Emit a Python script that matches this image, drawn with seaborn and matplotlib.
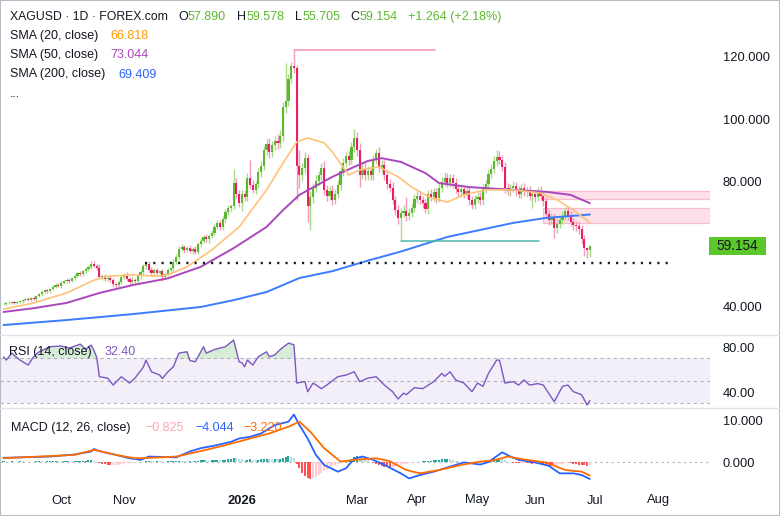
import numpy as np
import matplotlib
matplotlib.use("Agg")
import matplotlib.pyplot as plt
import seaborn as sns
from matplotlib.patches import Rectangle
from matplotlib.lines import Line2D

# ---------------- data ----------------
first_open = 40.6
closes = [
    40.8, 41.0, 40.9, 41.2, 41.0, 41.3, 41.6, 41.9, 42.3, 42.1,
    42.6, 42.2, 43.3, 43.8, 44.6, 45.0, 44.7, 45.4, 46.2, 46.8,
    46.5, 47.4, 48.0, 48.4, 48.1, 48.9, 49.8, 50.5, 50.2, 51.2,
    51.9, 52.4, 53.6, 53.0, 52.3, 49.4, 49.6, 48.7, 49.1, 48.4,
    47.0, 46.6, 47.6, 49.4, 49.9, 48.6, 47.7, 48.5, 48.0, 49.5,
    51.0, 52.8, 53.5, 51.7, 50.6, 51.5, 50.6, 51.1, 49.4, 50.2,
    51.5, 52.1, 54.2, 55.9, 58.4, 58.9, 58.0, 58.6, 57.6, 58.4,
    57.4, 59.9, 61.0, 62.1, 61.4, 62.6, 63.6, 65.4, 66.6, 65.4,
    68.1, 70.1, 71.4, 72.0, 79.6, 76.1, 73.2, 76.0, 75.0, 81.2,
    79.0, 77.4, 79.1, 83.0, 85.1, 90.2, 92.0, 89.4, 91.6, 93.1,
    92.4, 94.6, 104.0, 106.0, 113.0, 117.0, 116.4, 85.0, 82.0, 84.2,
    87.4, 72.0, 75.0, 78.0, 80.2, 82.0, 84.4, 77.2, 75.4, 77.0,
    74.2, 76.1, 79.0, 83.4, 86.0, 88.1, 87.0, 91.0, 94.0, 90.0,
    82.2, 84.0, 82.0, 83.5, 82.1, 87.0, 89.1, 84.6, 85.2, 82.0,
    79.2, 78.0, 74.1, 71.0, 68.2, 70.0, 70.6, 69.0, 70.0, 71.6,
    74.5, 75.4, 74.0, 73.0, 71.2, 76.0, 75.0, 76.5, 74.6, 78.0,
    80.0, 81.0, 79.5, 81.0, 79.4, 77.5, 76.5, 77.6, 76.0, 77.1,
    74.0, 72.6, 74.5, 75.1, 74.0, 77.6, 79.1, 82.5, 84.1, 86.5,
    88.0, 87.0, 84.8, 77.8, 77.0, 78.0, 78.6, 77.0, 76.1, 78.0,
    76.5, 77.1, 75.5, 76.0, 75.0, 77.0, 75.5, 73.6, 69.5, 67.6,
    68.5, 65.0, 66.5, 67.5, 69.0, 70.5, 69.0, 67.0, 66.1, 65.6,
    64.6, 61.5, 58.6, 57.89, 59.154,
]
wick_up = [
    0.4, 0.3, 0.5, 0.3, 0.4, 0.3, 0.5, 0.4, 0.3, 0.6,
    0.4, 0.5, 0.3, 0.5, 0.4, 0.6, 0.5, 0.4, 0.5, 0.6,
    0.7, 0.5, 0.4, 0.6, 0.5, 0.4, 0.6, 0.5, 0.8, 0.5,
    0.6, 0.7, 1.0, 0.9, 0.6, 1.2, 0.8, 0.6, 0.7, 0.5,
    0.6, 0.5, 0.6, 0.7, 0.8, 0.9, 0.6, 0.7, 0.6, 0.8,
    0.6, 0.7, 0.6, 0.9, 0.7, 0.6, 0.8, 0.5, 0.7, 0.6,
    0.7, 0.6, 0.8, 0.7, 0.9, 1.0, 0.8, 0.7, 0.9, 0.6,
    0.8, 0.7, 0.9, 0.8, 1.0, 0.7, 0.9, 0.8, 1.1, 1.0,
    0.9, 1.0, 1.2, 0.8, 4.4, 1.5, 1.2, 1.4, 1.3, 1.6,
    5.8, 1.5, 1.2, 1.4, 1.6, 1.3, 1.8, 2.0, 1.5, 1.6,
    2.2, 1.8, 1.5, 12.0, 1.6, 1.5, 5.3, 1.0, 5.0, 1.8,
    2.0, 1.5, 2.0, 1.6, 1.8, 1.5, 1.4, 2.2, 1.6, 1.5,
    1.8, 1.6, 1.5, 1.4, 1.7, 1.5, 1.8, 1.6, 2.8, 1.9,
    2.5, 1.6, 1.8, 1.5, 1.6, 1.4, 1.5, 2.0, 1.6, 1.8,
    1.6, 1.5, 1.8, 1.4, 1.6, 1.5, 1.7, 4.4, 1.5, 1.6,
    1.4, 1.5, 1.6, 1.3, 1.5, 1.4, 1.6, 1.3, 1.5, 1.4,
    1.6, 2.0, 1.8, 1.5, 1.4, 1.6, 1.3, 1.5, 1.4, 1.6,
    1.5, 1.4, 1.3, 1.5, 1.4, 1.6, 1.3, 1.5, 1.4, 1.6,
    2.0, 1.8, 1.5, 1.4, 1.6, 1.3, 1.5, 1.4, 1.6, 1.2,
    1.4, 1.3, 1.5, 1.2, 1.4, 1.3, 1.5, 1.2, 1.4, 1.3,
    1.5, 1.2, 1.4, 1.3, 1.5, 1.4, 1.5, 1.6, 1.3, 1.2,
    1.4, 1.3, 1.2, 0.5, 0.424,
]
wick_dn = [
    0.4, 0.5, 0.3, 0.4, 0.5, 0.3, 0.4, 0.5, 0.3, 0.4,
    0.5, 0.4, 0.6, 0.4, 0.5, 0.4, 0.6, 0.5, 0.4, 0.5,
    0.5, 0.6, 0.4, 0.5, 0.6, 0.5, 0.4, 0.6, 0.5, 0.4,
    0.5, 0.6, 0.5, 0.7, 0.6, 0.8, 0.9, 0.7, 0.6, 0.8,
    0.9, 0.7, 0.8, 0.6, 0.7, 0.6, 0.8, 0.7, 0.9, 0.6,
    0.7, 0.6, 0.8, 0.7, 0.6, 0.8, 0.7, 0.6, 1.2, 0.7,
    0.6, 0.8, 0.7, 0.6, 0.8, 0.7, 0.9, 0.8, 0.7, 0.9,
    0.8, 0.7, 0.9, 0.8, 0.7, 1.0, 0.8, 0.9, 0.7, 1.0,
    0.9, 1.0, 0.8, 1.1, 0.9, 1.4, 1.5, 2.8, 1.2, 1.4,
    1.5, 1.2, 1.4, 1.3, 1.5, 1.4, 1.6, 1.8, 1.5, 1.4,
    1.8, 1.5, 1.6, 2.0, 1.8, 1.5, 1.4, 11.0, 4.0, 1.8,
    1.6, 5.0, 7.6, 1.8, 1.5, 1.4, 1.6, 1.5, 1.8, 1.4,
    1.6, 1.5, 1.4, 1.6, 1.5, 1.4, 1.6, 1.5, 1.4, 1.8,
    4.0, 1.5, 1.6, 1.4, 1.5, 1.6, 1.4, 1.5, 1.6, 1.5,
    1.6, 1.5, 1.4, 1.6, 1.8, 7.2, 1.5, 1.6, 1.4, 1.5,
    1.4, 1.5, 1.3, 1.6, 1.4, 1.5, 1.3, 1.4, 1.6, 1.3,
    1.4, 1.5, 1.3, 1.4, 1.5, 1.3, 1.4, 1.5, 1.3, 1.4,
    1.6, 1.5, 1.4, 1.3, 1.5, 1.4, 1.3, 1.5, 1.4, 1.3,
    1.4, 1.5, 1.3, 1.6, 1.4, 1.5, 1.3, 1.6, 1.4, 1.5,
    1.3, 1.5, 1.4, 4.0, 1.5, 1.3, 1.4, 1.5, 1.3, 1.6,
    1.4, 3.0, 1.5, 1.4, 1.3, 1.5, 1.4, 1.3, 1.6, 1.4,
    1.3, 1.5, 2.6, 2.4, 2.185,
]

# moving averages (bar index, value)
sma20_idx = [0, 11, 23, 33, 38, 47, 56, 60, 67, 76, 86, 96, 102, 107, 111, 117, 120, 126,
             130, 137, 144, 149, 156, 162, 168, 176, 186, 196, 202, 208, 214]
sma20_val = [39.0, 41.0, 44.2, 48.3, 49.6, 50.0, 49.6, 50.0, 52.6, 58.0, 65.4, 77.3, 85.9,
             92.7, 94.0, 92.4, 89.5, 82.1, 83.7, 84.7, 81.5, 78.2, 74.7, 73.4, 75.7, 77.3,
             77.3, 76.3, 74.1, 70.8, 66.818]
sma50_idx = [0, 11, 23, 35, 47, 60, 72, 84, 96, 102, 108, 120, 128, 133, 138, 145, 154,
             159, 170, 181, 186, 198, 207, 214]
sma50_val = [38.1, 39.3, 41.0, 44.2, 46.7, 48.9, 52.6, 58.6, 65.4, 70.8, 75.7, 81.5, 84.7,
             86.6, 87.5, 86.3, 82.7, 79.5, 78.2, 77.6, 77.3, 76.7, 75.7, 73.044]
sma200_idx = [0, 23, 47, 72, 84, 96, 108, 120, 133, 145, 162, 186, 198, 214]
sma200_val = [33.9, 35.5, 37.4, 39.7, 41.9, 44.5, 49.0, 51.2, 54.6, 57.5, 62.2, 66.7, 68.3, 69.409]

# RSI (14)
rsi_idx = [0, 1, 3, 6, 9, 11, 13, 17, 21, 24, 28, 30, 32, 33, 34, 35, 38, 40, 43, 46, 48,
           51, 52, 54, 57, 58, 60, 62, 64, 67, 68, 70, 72, 73, 74, 77, 81, 84, 86, 87, 88,
           89, 91, 93, 96, 97, 99, 101, 104, 106, 107, 110, 111, 113, 116, 118, 122, 125,
           128, 130, 133, 136, 139, 142, 144, 146, 147, 150, 153, 157, 160, 161, 163, 165,
           168, 171, 173, 175, 177, 180, 181, 183, 186, 188, 190, 192, 195, 197, 199, 201,
           204, 206, 208, 211, 213, 214]
rsi_val = [71.4, 68.4, 74.6, 68.4, 64.0, 71.4, 75.8, 80.3, 80.9, 79.0, 82.6, 78.0, 81.8,
           77.0, 71.0, 53.6, 52.4, 46.2, 53.6, 48.0, 52.4, 62.0, 68.4, 58.0, 55.1, 52.0,
           58.0, 62.5, 74.6, 75.8, 68.0, 66.9, 75.8, 80.3, 74.6, 77.8, 80.3, 86.2, 66.9,
           66.0, 62.5, 68.4, 64.0, 71.4, 75.8, 71.4, 73.0, 77.8, 83.5, 82.0, 48.0, 49.2,
           40.3, 48.0, 43.0, 46.2, 53.6, 55.1, 58.0, 49.2, 52.4, 53.6, 46.2, 40.3, 33.8,
           39.0, 37.6, 43.9, 43.0, 49.2, 56.6, 54.0, 58.0, 50.7, 48.0, 40.3, 48.0, 45.0,
           56.6, 68.4, 68.4, 48.0, 49.2, 46.2, 50.7, 46.2, 47.5, 46.2, 38.8, 31.4, 45.0,
           46.2, 40.3, 37.6, 28.4, 32.4]

# MACD (12, 26, 9)
macd_idx = [0, 17, 26, 32, 33, 35, 41, 46, 50, 53, 63, 68, 72, 77, 83, 86, 90, 94, 99, 104,
            106, 108, 111, 114, 117, 122, 125, 128, 131, 135, 139, 145, 148, 152, 157, 163,
            168, 174, 177, 182, 185, 188, 194, 199, 203, 208, 211, 214]
macd_val = [1.0, 1.3, 1.8, 2.5, 3.1, 2.6, 1.7, 0.9, 0.5, 1.3, 1.1, 2.5, 3.3, 3.9, 4.8, 5.6,
            6.0, 6.8, 8.8, 9.6, 11.3, 8.8, 5.6, 1.7, -0.7, -2.3, -1.5, 0.8, 1.3, 0.5, -0.7,
            -2.7, -3.9, -3.1, -2.3, -1.1, -0.1, -0.6, 0.0, 2.3, 1.3, 0.5, -0.1, -0.9, -2.7,
            -2.7, -3.1, -4.044]
signal_idx = [0, 26, 33, 41, 48, 54, 63, 72, 81, 90, 97, 104, 108, 112, 117, 123, 128, 136,
              141, 147, 152, 159, 167, 174, 179, 184, 190, 198, 205, 211, 214]
signal_val = [0.9, 1.7, 2.9, 1.7, 0.9, 1.0, 1.3, 2.6, 4.0, 5.6, 6.8, 8.4, 9.6, 7.2, 3.3,
              0.1, 0.5, 0.9, 0.2, -1.9, -2.7, -1.9, -0.7, 0.1, 0.4, 1.3, 0.6, -0.1, -1.9,
              -2.3, -3.22]
hist_val = [
    0.15, 0.12, 0.1, 0.14, 0.1, 0.12, 0.15, 0.13, 0.1, 0.12,
    0.1, 0.12, 0.15, 0.18, 0.15, 0.12, 0.15, 0.18, 0.2, 0.22,
    0.2, 0.18, 0.22, 0.25, 0.22, 0.2, 0.25, 0.28, 0.3, 0.32,
    0.35, 0.38, 0.4, 0.3,
    -0.1, -0.3, -0.45, -0.55, -0.65, -0.7, -0.7, -0.65, -0.6, -0.5, -0.4, -0.35, -0.3,
    -0.2, -0.15, -0.05,
    0.05, 0.1, 0.2, 0.25, 0.2, 0.18, 0.2, 0.15, 0.1, 0.12, 0.15, 0.2, 0.25, 0.3, 0.35,
    0.3, 0.25, 0.2,
    0.25, 0.2, 0.3, 0.35, 0.4, 0.45, 0.4, 0.35, 0.4, 0.45, 0.5, 0.45, 0.5, 0.55, 0.6, 0.65,
    1.0, 0.9, 0.7, 0.6, 0.5, 0.55, 0.6, 0.5, 0.45, 0.5, 0.6, 0.7, 0.8, 0.7, 0.65, 0.75,
    0.7, 0.8, 1.0, 1.2, 1.4, 1.3, 1.0,
    -0.5, -1.5, -2.5, -3.3, -3.8, -4.0, -3.8, -3.5, -3.0, -2.6, -2.2, -1.8, -1.4, -1.0,
    -0.7, -0.4, -0.2, -0.1,
    0.2, 0.5, 0.8, 1.1, 1.4, 1.2, 1.0, 0.7, 0.4,
    0.1, -0.2, -0.4, -0.6, -0.9, -1.1, -1.3, -1.4, -1.3, -1.1, -0.9, -0.7, -0.5, -0.4,
    -0.3, -0.2, -0.1, 0.0, 0.1, 0.2, 0.25,
    0.3, 0.35, 0.4, 0.45, 0.55, 0.6, 0.65, 0.7, 0.6, 0.5, 0.35, 0.2,
    0.05, -0.1, -0.2, -0.3, -0.35, -0.4, -0.35, -0.3, -0.2, -0.1, 0.05,
    0.3, 0.6, 0.8, 0.9, 0.7, 0.4, 0.1,
    -0.1, -0.2, -0.3, -0.35, -0.3, -0.25, -0.3, -0.35, -0.4, -0.35,
    -0.3, -0.4, -0.5, -0.7, -0.9, -1.0, -0.9, -0.7, -0.5, -0.4,
    -0.3, -0.25, -0.3, -0.4, -0.5, -0.6, -0.7, -0.8, -0.85, -0.825,
]

# drawings on the price pane
high_level, high_from, high_to = 122.3, 106, 157.5
low_level, low_from, low_to = 61.0, 145, 195.5
support_level, support_from, support_to = 53.9, 51.6, 244
zones = [(74.5, 77.1), (66.8, 71.6)]
zone_from = 197

# time axis
month_names = ["Oct", "Nov", "2026", "Mar", "Apr", "May", "Jun", "Jul", "Aug"]
month_idx = [21, 44, 87, 129, 151, 173, 194, 216, 239]

price_ticks = [40, 80, 100, 120]
rsi_ticks = [40, 80]
macd_ticks = [0, 10]

assert len(closes) == len(wick_up) == len(wick_dn) == len(hist_val)
assert len(rsi_idx) == len(rsi_val) and len(macd_idx) == len(macd_val)
assert len(signal_idx) == len(signal_val)

# ---------------- style ----------------
sns.set_theme(style="white")
plt.rcParams["font.family"] = ["Liberation Sans", "DejaVu Sans"]
TXT = "#131722"
UP, DN = "#5cb82e", "#e91e63"
UPW, DNW = "#a9d98d", "#f59ab9"

W, H = 780, 516
fig = plt.figure(figsize=(7.8, 5.16), dpi=100)
fig.patch.set_facecolor("white")


def ax_px(x0, y0, x1, y1):
    return fig.add_axes([x0 / W, 1 - y1 / H, (x1 - x0) / W, (y1 - y0) / H])


ax_p = ax_px(0, 0, 710, 335)
ax_r = ax_px(0, 335, 710, 408)
ax_m = ax_px(0, 408, 710, 482)
XL = (-1.28, 257.85)

for ax in (ax_p, ax_r, ax_m):
    ax.set_xlim(*XL)
    for s in ax.spines.values():
        s.set_visible(False)
    ax.set_facecolor("white")
    ax.yaxis.tick_right()
    ax.tick_params(axis="y", length=0, pad=9, labelsize=9.3, labelcolor=TXT)
    ax.tick_params(axis="x", length=0)
    ax.grid(False)

# ---------------- price pane ----------------
c = np.array(closes)
o = np.concatenate([[first_open], c[:-1]])
hi = np.maximum(o, c) + np.array(wick_up)
lo = np.minimum(o, c) - np.array(wick_dn)
idx = np.arange(len(c))
up = c >= o

ax_p.vlines(idx, lo, hi, colors=np.where(up, UPW, DNW), lw=1.0, zorder=2)
ax_p.bar(idx, np.maximum(np.abs(c - o), 0.2), bottom=np.minimum(o, c), width=0.78,
         color=np.where(up, UP, DN), linewidth=0, zorder=3)

sns.lineplot(x=sma200_idx, y=sma200_val, ax=ax_p, color="#3d7bff", linewidth=1.4,
             estimator=None, zorder=4)
sns.lineplot(x=sma50_idx, y=sma50_val, ax=ax_p, color="#ab47bc", linewidth=1.4,
             estimator=None, zorder=4)
sns.lineplot(x=sma20_idx, y=sma20_val, ax=ax_p, color="#ffc27a", linewidth=1.2,
             estimator=None, zorder=4)

ax_p.plot([high_from, high_to], [high_level] * 2, color="#f48fb1", lw=1.1, zorder=5)
ax_p.plot([low_from, low_to], [low_level] * 2, color="#4db6ac", lw=1.1, zorder=5)
ax_p.plot([support_from, support_to], [support_level] * 2, color=TXT, lw=1.7,
          ls=(0, (0.9, 2.6)), zorder=5)
for lo_z, hi_z in zones:
    ax_p.add_patch(Rectangle((zone_from, lo_z), XL[1] - zone_from, hi_z - lo_z,
                             facecolor="#e91e63", alpha=0.13, edgecolor="none", zorder=1))
    ax_p.add_patch(Rectangle((zone_from, lo_z), XL[1] - zone_from, hi_z - lo_z,
                             facecolor="none", edgecolor="#f8bbd0", lw=0.9, zorder=1))

ax_p.set_ylim(30.7, 138.3)
ax_p.set_yticks(price_ticks)
ax_p.set_yticklabels([f"{v:.3f}" for v in price_ticks])
ax_p.set_xticks([])
ax_p.set_xlabel("")
ax_p.set_ylabel("")

# ---------------- RSI pane ----------------
rx = np.array(rsi_idx, dtype=float)
rv = np.array(rsi_val)
ax_r.axhspan(30, 70, color="#7e57c2", alpha=0.09, lw=0, zorder=0)
for lvl in (70, 50, 30):
    ax_r.axhline(lvl, color="#9598a1", lw=0.8, ls=(0, (3, 3)), alpha=0.7, zorder=1)
ax_r.fill_between(rx, rv, 70, where=rv > 70, interpolate=True, color="#4caf50",
                  alpha=0.22, lw=0, zorder=1)
ax_r.fill_between(rx, rv, 30, where=rv < 30, interpolate=True, color="#f23645",
                  alpha=0.22, lw=0, zorder=1)
sns.lineplot(x=rx, y=rv, ax=ax_r, color="#7e57c2", linewidth=1.0, estimator=None, zorder=3)
ax_r.set_ylim(25.8, 90.7)
ax_r.set_yticks(rsi_ticks)
ax_r.set_yticklabels([f"{v:.2f}" for v in rsi_ticks])
ax_r.set_xticks([])
ax_r.set_xlabel("")
ax_r.set_ylabel("")

# ---------------- MACD pane ----------------
h = np.array(hist_val)
prev = np.concatenate([[h[0]], h[:-1]])
hcol = np.where(h >= 0, np.where(h >= prev, "#26a69a", "#b2dfdb"),
                np.where(h < prev, "#ff5252", "#ffcdd2"))
ax_m.axhline(0, color="#b2b5be", lw=0.8, ls=(0, (2, 3)), zorder=0)
ax_m.bar(idx, h, width=0.75, color=hcol, linewidth=0, zorder=1)
sns.lineplot(x=macd_idx, y=macd_val, ax=ax_m, color="#2962ff", linewidth=1.3,
             estimator=None, zorder=3)
sns.lineplot(x=signal_idx, y=signal_val, ax=ax_m, color="#ff6d00", linewidth=1.3,
             estimator=None, zorder=3)
ax_m.set_ylim(-4.76, 12.86)
ax_m.set_yticks(macd_ticks)
ax_m.set_yticklabels([f"{v:.3f}" for v in macd_ticks])
ax_m.set_xticks(month_idx)
ax_m.set_xticklabels(month_names)
ax_m.tick_params(axis="x", pad=9, labelsize=9.3, labelcolor=TXT)
for t in ax_m.get_xticklabels():
    if t.get_text() == "2026":
        t.set_fontweight("bold")
ax_m.set_xlabel("")
ax_m.set_ylabel("")
ax_m.set_xlim(*XL)

# ---------------- texts ----------------
def ftxt(x, y, s, color=TXT, size=9.0, **kw):
    fig.text(x / W, 1 - y / H, s, color=color, fontsize=size, va="center", ha="left", **kw)


G = "#5cb82e"
ftxt(10, 17, "XAGUSD · 1D · FOREX.com", size=8.8)
for lab, x, val, xv in [("O", 178, "57.890", 188), ("H", 237, "59.578", 247),
                        ("L", 295, "55.705", 303), ("C", 350, "59.154", 360)]:
    ftxt(x, 17, lab)
    ftxt(xv, 17, val, color=G)
ftxt(408, 17, "+1.264 (+2.18%)", color=G)
ftxt(10, 36, "SMA (20, close)")
ftxt(110, 36, "66.818", color="#ff9800")
ftxt(10, 55, "SMA (50, close)")
ftxt(110, 55, "73.044", color="#ab47bc")
ftxt(10, 74.5, "SMA (200, close)")
ftxt(118, 74.5, "69.409", color="#2962ff")
ftxt(10, 94, "...")

ftxt(9, 352, "RSI (14, close)")
ftxt(105, 352, "32.40", color="#7e57c2")
ftxt(11, 428, "MACD (12, 26, close)")
ftxt(145, 428, "−0.825", color="#f7a8b0")
ftxt(195, 428, "−4.044", color="#2962ff")
ftxt(243, 428, "−3.220", color="#ff6d00")

# last price label
fig.add_artist(Rectangle((709 / W, 1 - 255 / H), 57 / W, 18 / H, transform=fig.transFigure,
                         facecolor="#5cc72a", edgecolor="none"))
fig.text(737.5 / W, 1 - 246 / H, "59.154", color=TXT, fontsize=9.8, ha="center", va="center")

# separators and frame
for yy in (335, 408):
    fig.add_artist(Line2D([0, 1], [1 - yy / H] * 2, transform=fig.transFigure,
                          color="#e0e3eb", lw=1))
fig.add_artist(Rectangle((0, 0), 1, 1, transform=fig.transFigure, fill=False,
                         edgecolor="#b8bbc4", lw=1.5))

fig.savefig("out.png", dpi=100)
